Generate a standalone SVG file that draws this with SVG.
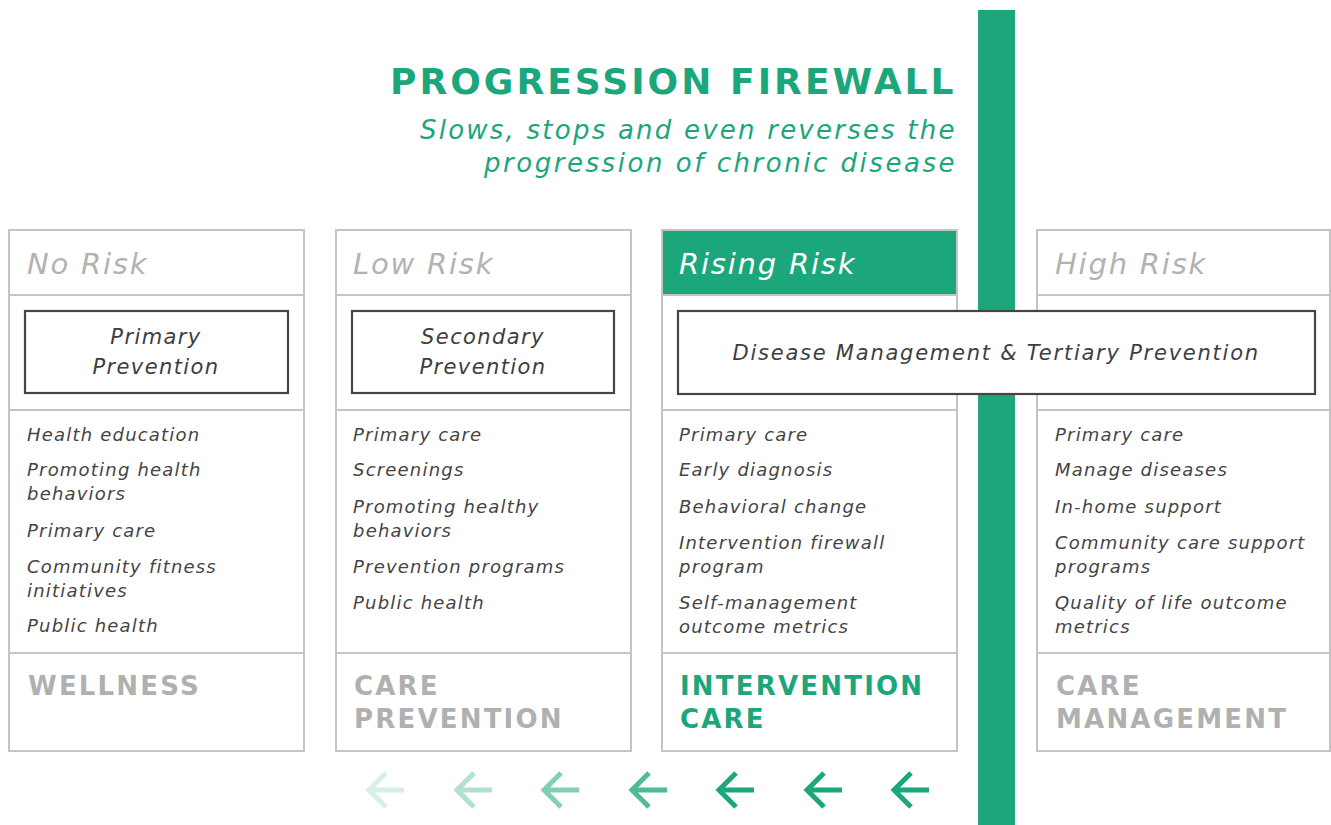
<svg xmlns="http://www.w3.org/2000/svg" width="1331" height="825" viewBox="0 0 1331 825">
  <style>
    .frame { fill: #ffffff; stroke: #c4c4c4; stroke-width: 2; }
    .rule { stroke: #c4c4c4; stroke-width: 2; }
    .box { fill: #ffffff; stroke: #454545; stroke-width: 2.2; }
    .title { font-family: "DejaVu Sans", "Liberation Sans", sans-serif; font-weight: 700; font-size: 36px; fill: #1ca67c; letter-spacing: 1.5px; }
    .sub { font-family: "DejaVu Sans", "Liberation Sans", sans-serif; font-style: italic; font-size: 26px; fill: #1ca67c; letter-spacing: 0.5px; }
    .head { font-family: "DejaVu Sans", "Liberation Sans", sans-serif; font-style: italic; font-size: 29px; fill: #b2b2b2; letter-spacing: 1.8px; }
    .head-on { fill: #ffffff; }
    .boxtxt { font-family: "DejaVu Sans", "Liberation Sans", sans-serif; font-style: italic; font-size: 21px; fill: #3e3e3e; letter-spacing: 1.4px; text-anchor: middle; }
    .item { font-family: "DejaVu Sans", "Liberation Sans", sans-serif; font-style: italic; font-size: 18px; fill: #444444; letter-spacing: 1.2px; }
    .foot { font-family: "DejaVu Sans", "Liberation Sans", sans-serif; font-weight: 700; font-size: 26px; fill: #b0b0b0; letter-spacing: 2.2px; }
    .foot-on { fill: #1ca67c; }
    .arrow { fill: none; stroke: #1ca67c; stroke-width: 5; stroke-linejoin: miter; }
  </style>

  <!-- firewall bar -->
  <rect id="firewall-bar" x="978" y="10" width="37" height="815" fill="#1ca67c"/>

  <!-- heading -->
  <g id="heading">
    <text class="title" x="955" y="94" text-anchor="end" textLength="565">PROGRESSION FIREWALL</text>
    <text class="sub" x="955" y="139" text-anchor="end" textLength="535">Slows, stops and even reverses the</text>
    <text class="sub" x="955" y="172" text-anchor="end" textLength="471">progression of chronic disease</text>
  </g>

  <!-- column: no risk -->
  <g id="col-no-risk">
    <rect class="frame" x="9" y="230" width="295" height="521"/>
    <line class="rule" x1="9" y1="295" x2="304" y2="295"/>
    <line class="rule" x1="9" y1="410" x2="304" y2="410"/>
    <line class="rule" x1="9" y1="653" x2="304" y2="653"/>
    <text class="head" x="27" y="274">No Risk</text>
    <rect class="box" x="25" y="311" width="263" height="82"/>
    <text class="boxtxt" x="156" y="344">Primary</text>
    <text class="boxtxt" x="156" y="374">Prevention</text>
    <text class="item" x="27" y="441">Health education</text>
    <text class="item" x="27" y="476">Promoting health</text>
    <text class="item" x="27" y="500">behaviors</text>
    <text class="item" x="27" y="537">Primary care</text>
    <text class="item" x="27" y="573">Community fitness</text>
    <text class="item" x="27" y="597">initiatives</text>
    <text class="item" x="27" y="632">Public health</text>
    <text class="foot" x="28" y="695">WELLNESS</text>
  </g>

  <!-- column: low risk -->
  <g id="col-low-risk">
    <rect class="frame" x="336" y="230" width="295" height="521"/>
    <line class="rule" x1="336" y1="295" x2="631" y2="295"/>
    <line class="rule" x1="336" y1="410" x2="631" y2="410"/>
    <line class="rule" x1="336" y1="653" x2="631" y2="653"/>
    <text class="head" x="353" y="274">Low Risk</text>
    <rect class="box" x="352" y="311" width="262" height="82"/>
    <text class="boxtxt" x="483" y="344">Secondary</text>
    <text class="boxtxt" x="483" y="374">Prevention</text>
    <text class="item" x="353" y="441">Primary care</text>
    <text class="item" x="353" y="476">Screenings</text>
    <text class="item" x="353" y="513">Promoting healthy</text>
    <text class="item" x="353" y="537">behaviors</text>
    <text class="item" x="353" y="573">Prevention programs</text>
    <text class="item" x="353" y="609">Public health</text>
    <text class="foot" x="354" y="695">CARE</text>
    <text class="foot" x="354" y="728">PREVENTION</text>
  </g>

  <!-- column: rising risk -->
  <g id="col-rising-risk">
    <rect class="frame" x="662" y="230" width="295" height="521"/>
    <rect x="662" y="230" width="295" height="65" fill="#1ca67c" stroke="#c4c4c4" stroke-width="2"/>
    <line class="rule" x1="662" y1="410" x2="957" y2="410"/>
    <line class="rule" x1="662" y1="653" x2="957" y2="653"/>
    <text class="head head-on" x="679" y="274">Rising Risk</text>
    <text class="item" x="679" y="441">Primary care</text>
    <text class="item" x="679" y="476">Early diagnosis</text>
    <text class="item" x="679" y="513">Behavioral change</text>
    <text class="item" x="679" y="549">Intervention firewall</text>
    <text class="item" x="679" y="573">program</text>
    <text class="item" x="679" y="609">Self-management</text>
    <text class="item" x="679" y="633">outcome metrics</text>
    <text class="foot foot-on" x="680" y="695">INTERVENTION</text>
    <text class="foot foot-on" x="680" y="728">CARE</text>
  </g>

  <!-- column: high risk -->
  <g id="col-high-risk">
    <rect class="frame" x="1037" y="230" width="293" height="521"/>
    <line class="rule" x1="1037" y1="295" x2="1330" y2="295"/>
    <line class="rule" x1="1037" y1="410" x2="1330" y2="410"/>
    <line class="rule" x1="1037" y1="653" x2="1330" y2="653"/>
    <text class="head" x="1055" y="274">High Risk</text>
    <text class="item" x="1055" y="441">Primary care</text>
    <text class="item" x="1055" y="476">Manage diseases</text>
    <text class="item" x="1055" y="513">In-home support</text>
    <text class="item" x="1055" y="549">Community care support</text>
    <text class="item" x="1055" y="573">programs</text>
    <text class="item" x="1055" y="609">Quality of life outcome</text>
    <text class="item" x="1055" y="633">metrics</text>
    <text class="foot" x="1056" y="695">CARE</text>
    <text class="foot" x="1056" y="728">MANAGEMENT</text>
  </g>

  <!-- shared box spanning rising and high risk -->
  <g id="box-disease-management">
    <rect class="box" x="678" y="311" width="637" height="83"/>
    <text class="boxtxt" x="996" y="360" textLength="527">Disease Management &amp; Tertiary Prevention</text>
  </g>

  <!-- backward arrows, fading from right to left -->
  <g id="connectors">
    <path class="arrow" opacity="0.18" d="M404,790 H370 M386,773 L369,790 L386,807"/>
    <path class="arrow" opacity="0.35" d="M492,790 H458 M474,773 L457,790 L474,807"/>
    <path class="arrow" opacity="0.55" d="M579,790 H545 M561,773 L544,790 L561,807"/>
    <path class="arrow" opacity="0.78" d="M667,790 H633 M649,773 L632,790 L649,807"/>
    <path class="arrow" d="M754,790 H720 M736,773 L719,790 L736,807"/>
    <path class="arrow" d="M842,790 H808 M824,773 L807,790 L824,807"/>
    <path class="arrow" d="M929,790 H895 M911,773 L894,790 L911,807"/>
  </g>
</svg>
